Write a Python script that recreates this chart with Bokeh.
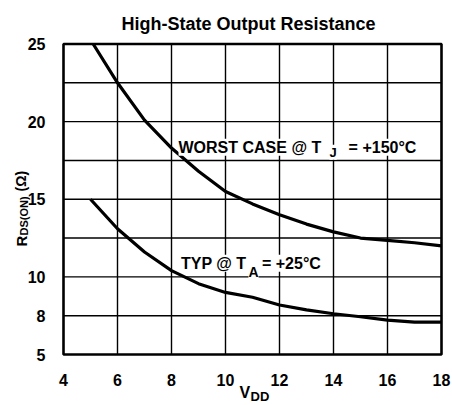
import math
from bokeh.plotting import figure
from bokeh.models import Range1d, Label, ColumnDataSource, CustomJSTransform
from bokeh.transform import transform
from bokeh.core.properties import value
from bokeh.embed import file_html
from bokeh.resources import INLINE

# ---------------- data ----------------
title_text = "High-State Output Resistance"
x_ticks = [4, 6, 8, 10, 12, 14, 16, 18]
# the y scale of the original is piecewise: one grid band per listed value
y_grid_values = [5, 8, 10, 12.5, 15, 17.5, 20, 22.5, 25]
y_tick_values = [5, 8, 10, 15, 20, 25]

vdd_worst = [5.1, 6, 7, 8, 9, 10, 11, 12, 13, 14, 15, 16, 17, 18]
r_worst = [25, 22.5, 20.1, 18.3, 16.8, 15.5, 14.7, 14.0, 13.4, 12.9, 12.5, 12.35, 12.2, 12.0]

vdd_typ = [5, 6, 7, 8, 9, 10, 11, 12, 13, 14, 15, 16, 17, 18]
r_typ = [15, 13.1, 11.6, 10.4, 9.65, 9.2, 8.95, 8.55, 8.3, 8.1, 7.92, 7.66, 7.5, 7.5]

FONT = "Liberation Sans"

# ---------------- layout (pixels of the 452x405 canvas) ----------------
W, H = 452, 405
BOX_L, BOX_R, BOX_T, BOX_B = 63, 441, 43.5, 354
XMIN, XMAX = x_ticks[0], x_ticks[-1]
NB = len(y_grid_values) - 1
sx = (BOX_R - BOX_L) / (XMAX - XMIN)
sy = (BOX_B - BOX_T) / NB

def px(x):
    return XMIN + (x - BOX_L) / sx

def py(y):
    return (BOX_B - y) / sy

# piecewise scale: ohms -> grid band position
ytf = CustomJSTransform(args=dict(vals=y_grid_values), v_func="""
const out = new Float64Array(xs.length)
for (let k = 0; k < xs.length; k++) {
  const v = xs[k]
  let i = 0
  while (i < vals.length - 2 && v > vals[i + 1]) i++
  out[k] = i + (v - vals[i]) / (vals[i + 1] - vals[i])
}
return out
""")

def grid_pos(v):
    for i in range(len(y_grid_values) - 1):
        if v <= y_grid_values[i + 1]:
            break
    return i + (v - y_grid_values[i]) / (y_grid_values[i + 1] - y_grid_values[i])

p = figure(width=W, height=H, output_backend="svg", toolbar_location=None,
           x_range=Range1d(px(0), px(W)), y_range=Range1d(py(H), py(0)),
           x_axis_type=None, y_axis_type=None, min_border=0)
p.title = None
p.outline_line_color = None
p.background_fill_color = "white"
p.border_fill_color = "white"
p.grid.visible = False

# grid lines
inner_x = x_ticks[1:-1]
p.segment(x0=inner_x, x1=inner_x, y0=[0] * len(inner_x), y1=[NB] * len(inner_x),
          line_color="black", line_width=1.4)
inner_y = list(range(1, NB))
p.segment(x0=[XMIN] * len(inner_y), x1=[XMAX] * len(inner_y), y0=inner_y, y1=inner_y,
          line_color="black", line_width=1.4)
# plot box
p.quad(left=[XMIN], right=[XMAX], bottom=[0], top=[NB], fill_color=None,
       line_color="black", line_width=2.6)

# curves
src_w = ColumnDataSource(dict(v=vdd_worst, r=r_worst))
src_t = ColumnDataSource(dict(v=vdd_typ, r=r_typ))
p.line(x="v", y=transform("r", ytf), source=src_w, line_color="black", line_width=3.2)
p.line(x="v", y=transform("r", ytf), source=src_t, line_color="black", line_width=3.2)

# tick labels
p.text(x=x_ticks, y=[py(379)] * len(x_ticks), text=[str(v) for v in x_ticks],
       text_font=value(FONT), text_font_style="bold", text_font_size="16px",
       text_align="center", text_baseline="alphabetic", text_color="black")
ypos = [grid_pos(v) for v in y_tick_values]
p.text(x=[px(45)] * len(ypos), y=ypos, text=[str(v) for v in y_tick_values],
       text_font=value(FONT), text_font_style="bold", text_font_size="16px",
       text_align="right", text_baseline="middle", text_color="black")

def lab(text, x, y, size, angle=0, align="left", bg=None):
    p.add_layout(Label(x=x, y=y, text=text, angle=angle,
                       text_align=align, text_baseline="alphabetic", text_font=FONT,
                       text_font_style="bold", text_font_size=size, text_color="black",
                       background_fill_color=bg))

# title
lab(title_text, px(248), py(23), "18px", align="center")

# in-plot curve labels
lab("WORST CASE @ T", 8.26, 5.34, "16px", bg="white")
lab("J", 13.85, 5.21, "13px", bg="white")
lab("= +150\u00b0C", 14.56, 5.34, "16px", bg="white")
lab("TYP @ T", 8.35, 2.35, "16px", bg="white")
lab("A", 10.85, 2.12, "14px", bg="white")
lab("= +25\u00b0C", 11.35, 2.35, "16px", bg="white")

# x axis label V_DD
lab("V", px(239), py(392), "16px")
lab("DD", px(250), py(396), "13px")

# y axis label R_DS(ON) (Ω), rotated
a = math.pi / 2
lab("R", px(20.5), py(246), "15px", angle=a)
lab("DS(ON)", px(23.5), py(235), "11px", angle=a)
lab("(\u03a9)", px(20.5), py(191), "14px", angle=a)

open("out.html", "w").write(file_html(p, INLINE))
